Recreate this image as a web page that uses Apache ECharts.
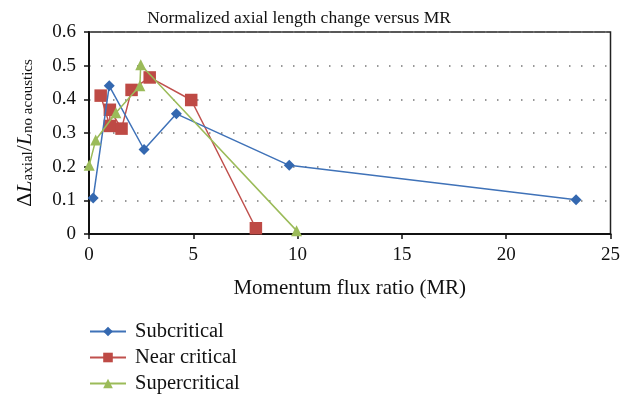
<!DOCTYPE html>
<html>
<head>
<meta charset="utf-8">
<script src="https://cdn.jsdelivr.net/npm/echarts@6/dist/echarts.min.js"></script>
<style>
  html, body { margin: 0; padding: 0; background: #fff; }
  #chart { width: 623px; height: 398px; }
</style>
</head>
<body>
<div id="chart"></div>
<script>
// Momentum flux ratio (MR) and normalized axial length change for each regime
const subcriticalMR = [0.2, 0.97, 2.64, 4.19, 9.6, 23.35];
const subcriticalDL = [0.107, 0.44, 0.251, 0.357, 0.204, 0.102];

const nearCriticalMR = [0.56, 1.0, 1.0, 1.56, 2.04, 2.91, 4.9, 8.0];
const nearCriticalDL = [0.411, 0.321, 0.369, 0.313, 0.428, 0.465, 0.398, 0.017];

const supercriticalMR = [0.01, 0.32, 1.29, 2.44, 2.48, 9.95];
const supercriticalDL = [0.204, 0.279, 0.36, 0.44, 0.503, 0.01];

const seriesNames = ['Subcritical', 'Near critical', 'Supercritical'];

const FONT = '"Liberation Serif", "DejaVu Serif", serif';
const pairs = (xs, ys) => xs.map((x, i) => [x, ys[i]]);

const chart = echarts.init(document.getElementById('chart'));
chart.setOption({
  animation: false,
  textStyle: { fontFamily: FONT, color: '#111' },
  title: {
    text: 'Normalized axial length change versus MR',
    left: 294,
    textAlign: 'center',
    top: 4,
    textStyle: { fontFamily: FONT, fontSize: 17.5, fontWeight: 'normal', color: '#111' }
  },
  grid: {
    left: 89, right: 9, top: 32, bottom: 164,
    show: true, borderColor: '#222', borderWidth: 1.5
  },
  legend: {
    orient: 'vertical',
    left: 89, top: 321, padding: 0,
    itemWidth: 36, itemHeight: 12, itemGap: 5,
    textStyle: { fontFamily: FONT, fontSize: 20.5, color: '#111', padding: [0, 0, 0, 4] },
    data: seriesNames
  },
  xAxis: {
    type: 'value', min: 0, max: 25, interval: 5,
    name: 'Momentum flux ratio (MR)',
    nameLocation: 'middle', nameGap: 44,
    nameTextStyle: { fontFamily: FONT, fontSize: 21, color: '#111' },
    axisLine: { show: true, onZero: false, lineStyle: { color: '#111', width: 2 } },
    axisTick: { show: true, length: 5, lineStyle: { color: '#111', width: 1.5 } },
    axisLabel: { fontFamily: FONT, fontSize: 19, color: '#111', margin: 12 },
    splitLine: { show: false }
  },
  yAxis: {
    type: 'value', min: 0, max: 0.6, interval: 0.1,
    name: '{n|Δ}{i|L}{s|axial}{n|/}{i|L}{s|no acoustics}',
    nameLocation: 'middle', nameGap: 53, nameRotate: 90,
    nameTextStyle: {
      fontFamily: FONT, color: '#111',
      rich: {
        n: { fontFamily: FONT, fontSize: 22, color: '#111', lineHeight: 26, verticalAlign: 'bottom' },
        i: { fontFamily: FONT, fontSize: 22, fontStyle: 'italic', color: '#111', lineHeight: 26, verticalAlign: 'bottom' },
        s: { fontFamily: FONT, fontSize: 15, color: '#111', lineHeight: 19, verticalAlign: 'bottom' }
      }
    },
    axisLine: { show: true, lineStyle: { color: '#111', width: 2 } },
    axisTick: { show: true, inside: false, length: 5, lineStyle: { color: '#111', width: 1.5 } },
    axisLabel: { fontFamily: FONT, fontSize: 19, color: '#111', margin: 13,
      formatter: v => (Math.round(v * 10) / 10).toString() },
    splitLine: { show: true, lineStyle: { color: '#777', width: 1.5, type: [1.5, 10.5] } }
  },
  series: [
    {
      name: seriesNames[0], type: 'line', data: pairs(subcriticalMR, subcriticalDL),
      symbol: 'diamond', symbolSize: 11, z: 3,
      lineStyle: { color: '#3F72B8', width: 1.5 },
      itemStyle: { color: '#3468B0' }
    },
    {
      name: seriesNames[1], type: 'line', data: pairs(nearCriticalMR, nearCriticalDL),
      symbol: 'rect', symbolSize: 12.5, z: 2,
      lineStyle: { color: '#C0504D', width: 1.5 },
      itemStyle: { color: '#BE4A45' }
    },
    {
      name: seriesNames[2], type: 'line', data: pairs(supercriticalMR, supercriticalDL),
      symbol: 'triangle', symbolSize: 11, z: 4,
      lineStyle: { color: '#9BBB59', width: 1.5 },
      itemStyle: { color: '#9BBB59' }
    }
  ]
});
</script>
</body>
</html>
